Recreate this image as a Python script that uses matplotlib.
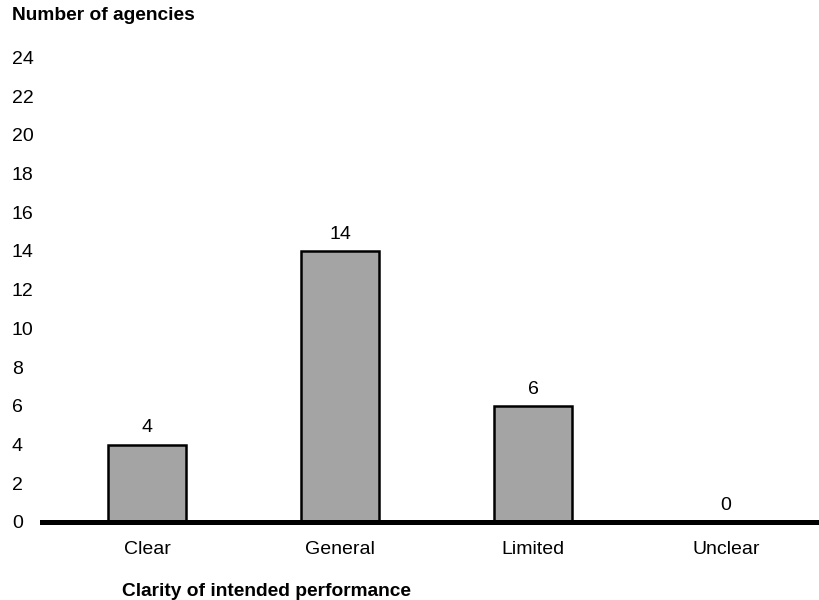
import matplotlib.pyplot as plt

categories = ["Clear", "General", "Limited", "Unclear"]
counts = [4, 14, 6, 0]
y_ticks = list(range(0, 26, 2))[:13]

plt.rcParams["font.family"] = ["Liberation Sans", "DejaVu Sans"]
FS = 14

W, H = 819, 600
fig = plt.figure(figsize=(W / 100, H / 100), dpi=100)

# axes placed in pixel terms: baseline at y=522, plot runs to right edge
left, right, bottom, top = 42, 819, 522, 38
ax = fig.add_axes([left / W, (H - bottom) / H, (right - left) / W, (bottom - top) / H])

x = list(range(len(categories)))
bars = ax.bar(x, counts, width=0.40, color="#a4a4a4", edgecolor="black",
              linewidth=1.8, zorder=2)

for xi, c in zip(x, counts):
    ax.annotate(str(c), (xi, c), xytext=(0, 6), textcoords="offset points",
                ha="center", va="bottom", fontsize=FS)

ax.set_xlim(-0.544, 3.482)
ax.set_ylim(0, 25)
ax.set_xticks(x)
ax.set_xticklabels(categories, fontsize=FS)
ax.set_yticks(y_ticks)
ax.set_yticklabels([str(v) for v in y_ticks], fontsize=FS)
for lbl in ax.get_yticklabels():
    lbl.set_horizontalalignment("left")

ax.tick_params(axis="y", length=0, pad=21.6)
ax.tick_params(axis="x", length=0, pad=14)

for side in ["top", "right", "left"]:
    ax.spines[side].set_visible(False)
ax.spines["bottom"].set_linewidth(3.6)
ax.spines["bottom"].set_zorder(3)

fig.text(12 / W, (H - 16) / H, "Number of agencies", fontsize=13.8,
         fontweight="bold", ha="left", va="center")
fig.text(122 / W, (H - 592) / H, "Clarity of intended performance",
         fontsize=13.8, fontweight="bold", ha="left", va="center")

fig.savefig("out.png", dpi=100)
